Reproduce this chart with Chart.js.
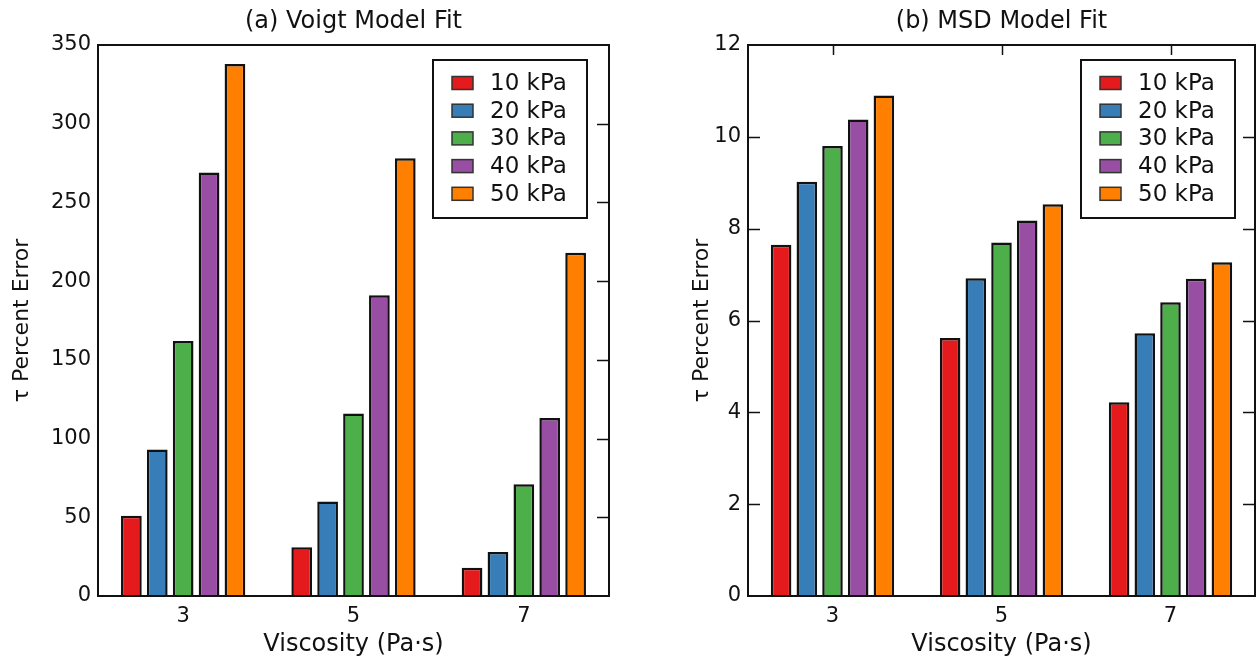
<!DOCTYPE html>
<html>
<head>
<meta charset="utf-8">
<script src="https://cdn.jsdelivr.net/npm/chart.js@4.4.1/dist/chart.umd.min.js"></script>
<style>
    html, body { margin: 0; padding: 0; background: #fff; }
    #wrap { position: relative; width: 1257px; height: 659px; }
    .panel { position: absolute; top: 0; height: 659px; }
    #panelA { left: 0; width: 628px; }
    #panelB { left: 628px; width: 629px; }
</style>
</head>
<body>
<div id="wrap">
    <div class="panel" id="panelA"><canvas id="voigtChart"></canvas></div>
    <div class="panel" id="panelB"><canvas id="msdChart"></canvas></div>
</div>
<script>
// categories and series
const viscosities = ["3", "5", "7"];
const stiffnessLabels = ["10 kPa", "20 kPa", "30 kPa", "40 kPa", "50 kPa"];
const barColors = ["#e41a1c", "#377eb8", "#4daf4a", "#984ea3", "#ff7f00"];

// (a) Voigt model fit, tau percent error
const voigt10 = [51, 31, 18];
const voigt20 = [93, 60, 28];
const voigt30 = [162, 116, 71];
const voigt40 = [269, 191, 113];
const voigt50 = [338, 278, 218];

// (b) MSD model fit, tau percent error
const msd10 = [7.65, 5.62, 4.22];
const msd20 = [9.02, 6.92, 5.72];
const msd30 = [9.80, 7.70, 6.40];
const msd40 = [10.38, 8.18, 6.91];
const msd50 = [10.90, 8.53, 7.27];

const FONT = "'DejaVu Sans', Verdana, sans-serif";
const INK = "#111";

// box round the plot, inward ticks on the other sides, title centred on the plot
const framePlugin = {
    id: "frame",
    afterDraw(chart, args, opts) {
        const { ctx, chartArea: a, scales } = chart;
        ctx.save();
        ctx.strokeStyle = INK;
        ctx.lineWidth = 2;
        ctx.strokeRect(a.left, a.top, a.right - a.left, a.bottom - a.top);

        ctx.lineWidth = 1.5;
        ctx.beginPath();
        scales.y.ticks.forEach((t, i) => {
            const py = Math.round(scales.y.getPixelForTick(i)) + 0.5;
            if (py <= a.top + 2 || py >= a.bottom - 2) return;
            ctx.moveTo(a.right, py);
            ctx.lineTo(a.right - 12, py);
            if (opts.leftTicks) {
                ctx.moveTo(a.left, py);
                ctx.lineTo(a.left + 12, py);
            }
        });
        if (opts.topTicks) {
            scales.x.ticks.forEach((t, i) => {
                const px = Math.round(scales.x.getPixelForTick(i)) + 0.5;
                ctx.moveTo(px, a.top);
                ctx.lineTo(px, a.top + 10);
            });
        }
        ctx.stroke();

        ctx.fillStyle = INK;
        ctx.font = "24px " + FONT;
        ctx.textAlign = "center";
        ctx.textBaseline = "middle";
        ctx.fillText(opts.title, (a.left + a.right) / 2, 22);
        ctx.restore();
    }
};

// boxed legend in the upper right corner
const boxLegendPlugin = {
    id: "boxLegend",
    afterDraw(chart, args, opts) {
        const { ctx, chartArea: a } = chart;
        const w = 154, h = 158;
        const x0 = a.right - opts.right - w;
        const y0 = a.top + 15;
        ctx.save();
        ctx.fillStyle = "#fff";
        ctx.fillRect(x0, y0, w, h);
        ctx.strokeStyle = INK;
        ctx.lineWidth = 2;
        ctx.strokeRect(x0, y0, w, h);

        ctx.font = "23px " + FONT;
        ctx.textBaseline = "middle";
        chart.data.datasets.forEach((ds, i) => {
            const cy = y0 + 23 + i * 27.7;
            ctx.fillStyle = ds.backgroundColor;
            ctx.fillRect(x0 + 19, cy - 6.5, 21, 13);
            ctx.lineWidth = 1.5;
            ctx.strokeStyle = "#333";
            ctx.strokeRect(x0 + 19, cy - 6.5, 21, 13);
            ctx.fillStyle = INK;
            ctx.fillText(ds.label, x0 + 57, cy + 1);
        });
        ctx.restore();
    }
};

function makeDatasets(seriesList) {
    return seriesList.map((values, i) => ({
        label: stiffnessLabels[i],
        data: values,
        backgroundColor: barColors[i],
        borderColor: INK,
        borderWidth: 2.5
    }));
}

function makeChart(canvasId, cfg) {
    const ctx = document.getElementById(canvasId).getContext("2d");
    return new Chart(ctx, {
        type: "bar",
        data: { labels: viscosities, datasets: makeDatasets(cfg.series) },
        options: {
            responsive: true,
            maintainAspectRatio: false,
            animation: false,
            layout: { padding: { left: 0, right: cfg.padRight, top: 45, bottom: 0 } },
            datasets: {
                bar: { categoryPercentage: 0.76, barPercentage: 0.8 }
            },
            plugins: {
                legend: { display: false },
                tooltip: { enabled: false },
                title: { display: false },
                frame: { leftTicks: cfg.leftTicks, topTicks: cfg.topTicks, title: cfg.title },
                boxLegend: { right: cfg.legendRight }
            },
            scales: {
                x: {
                    grid: { display: false, drawTicks: false },
                    border: { display: false },
                    ticks: { color: INK, padding: 8, font: { family: FONT, size: 21 } },
                    title: {
                        display: true,
                        text: "Viscosity (Pa·s)",
                        color: INK,
                        font: { family: FONT, size: 24 },
                        padding: { top: 0, bottom: 0 }
                    },
                    afterFit: scale => { scale.height = 63; }
                },
                y: {
                    min: 0,
                    max: cfg.yMax,
                    grid: { display: false, drawTicks: false },
                    border: { display: false },
                    ticks: { stepSize: cfg.yStep, color: INK, padding: 7, font: { family: FONT, size: 21 } },
                    title: {
                        display: true,
                        text: "τ Percent Error",
                        color: INK,
                        font: { family: FONT, size: 22 },
                        padding: { top: cfg.yTitlePad, bottom: 0 }
                    },
                    afterFit: scale => { scale.width = cfg.yWidth; }
                }
            }
        },
        plugins: [framePlugin, boxLegendPlugin]
    });
}

makeChart("voigtChart", {
    title: "(a) Voigt Model Fit",
    series: [voigt10, voigt20, voigt30, voigt40, voigt50],
    yMax: 350, yStep: 50,
    yWidth: 98, yTitlePad: 9, padRight: 19,
    legendRight: 22,
    leftTicks: false, topTicks: false
});

makeChart("msdChart", {
    title: "(b) MSD Model Fit",
    series: [msd10, msd20, msd30, msd40, msd50],
    yMax: 12, yStep: 2,
    yWidth: 120, yTitlePad: 61, padRight: 2,
    legendRight: 20,
    leftTicks: true, topTicks: true
});
</script>
</body>
</html>
